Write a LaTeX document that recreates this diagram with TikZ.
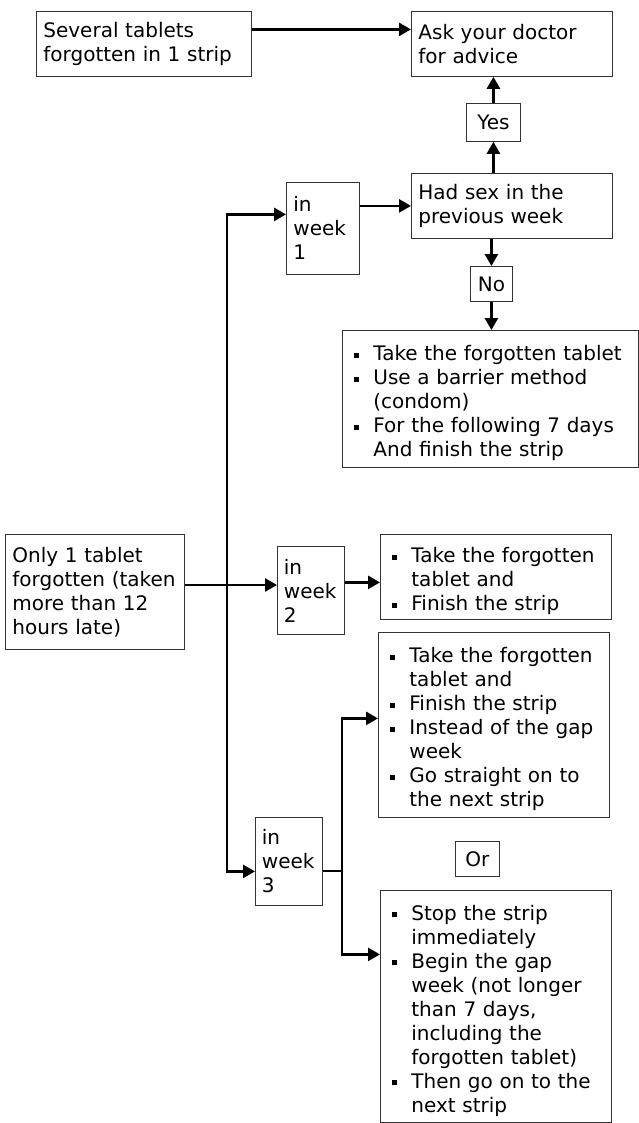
\documentclass[tikz,border=0pt]{standalone}
\usepackage{fontspec}
\setmainfont{DejaVu Sans}
\usetikzlibrary{arrows.meta}
\newcommand{\bul}{\par\hangindent=24pt\hangafter=1\noindent\makebox[24pt][l]{\hspace{5pt}\rule[3pt]{5pt}{5pt}}}

\begin{document}
\begin{tikzpicture}[x=1pt,y=-1pt,
   every node/.style={font=\fontsize{20}{24}\selectfont},
   box/.style={draw=black!80,line width=0.8pt,anchor=north west,inner xsep=7pt,inner ysep=2pt,align=left},
   tag/.style={draw=black!80,line width=0.8pt,anchor=north west,inner sep=0pt},
   arr/.style={line width=2.6pt,-{Triangle[length=12pt,width=13pt]}}]
   \useasboundingbox (0,0) rectangle (639,1123);
   \node[box,text width=201pt,minimum height=65pt] (sev) at (36,11) {Several tablets\\forgotten in 1 strip};
   \node[box,text width=187pt,minimum height=65pt] (ask) at (411,11) {Ask your doctor\\for advice};
   \node[tag,minimum width=54pt,minimum height=38pt] (yes) at (466,103) {Yes};
   \node[box,text width=187pt,minimum height=65pt] (sex) at (411,173) {Had sex in the\\previous week};
   \node[box,text width=59pt,minimum height=92pt] (wk1) at (286,182) {in\\week\\1};
   \node[tag,minimum width=42pt,minimum height=35pt] (no) at (470,266) {No};
   \node[box,text width=282pt,minimum height=137pt] (take1) at (342,330)
      {\bul Take the forgotten tablet
       \bul Use a barrier method\newline (condom)
       \bul For the following 7 days\newline And finish the strip\par};
   \node[box,text width=165pt,minimum height=115pt] (only) at (5,534) {Only 1 tablet\\forgotten (taken\\more than 12\\hours late)};
   \node[box,text width=54pt,minimum height=88pt,inner xsep=6.5pt] (wk2) at (277,546) {in\\week\\2};
   \node[box,text width=217pt,minimum height=85pt] (take2) at (380,534)
      {\bul Take the forgotten\newline tablet and
       \bul Finish the strip\par};
   \node[box,text width=217pt,minimum height=185pt] (take3) at (378,632)
      {\bul Take the forgotten\newline tablet and
       \bul Finish the strip
       \bul Instead of the gap\newline week
       \bul Go straight on to\newline the next strip\par};
   \node[box,text width=54pt,minimum height=88pt,inner xsep=6.5pt] (wk3) at (255,817) {in\\week\\3};
   \node[tag,minimum width=44pt,minimum height=35pt] (or) at (455,841) {Or};
   \node[box,text width=217pt,minimum height=232pt] (stop) at (380,890)
      {\bul Stop the strip\newline immediately
       \bul Begin the gap\newline week (not longer\newline than 7 days,\newline including the\newline forgotten tablet)
       \bul Then go on to the\newline next strip\par};
   \draw[arr] ([yshift=14.5pt]sev.east) -- ([yshift=14.5pt]ask.west);
   \draw[arr] (yes.south |- sex.north) -- (yes.south);
   \draw[arr] (yes.north) -- (yes.north |- ask.south);
   \draw[arr] (sex.west -| wk1.east) -- (sex.west);
   \draw[arr] (no.north |- sex.south) -- (no.north);
   \draw[arr] (no.south) -- (no.south |- take1.north);
   \coordinate (split) at (227,585);
   \draw[arr] (only.east |- split) -- (wk2.west |- split);
   \draw[arr] (split) |- ([yshift=14pt]wk1.west);
   \draw[arr] (split) |- ([yshift=-10pt]wk3.west);
   \coordinate (wout) at ([yshift=8pt]wk2.east);
   \draw[arr] (wout) -- (wout -| take2.west);
   \coordinate (fork) at (342,871);
   \draw[line width=2.6pt] (wk3.east |- fork) -- (fork);
   \draw[arr] (fork) |- ([yshift=6.5pt]take3.west);
   \draw[arr] (fork) |- ([yshift=52pt]stop.west);
\end{tikzpicture}
\end{document}
